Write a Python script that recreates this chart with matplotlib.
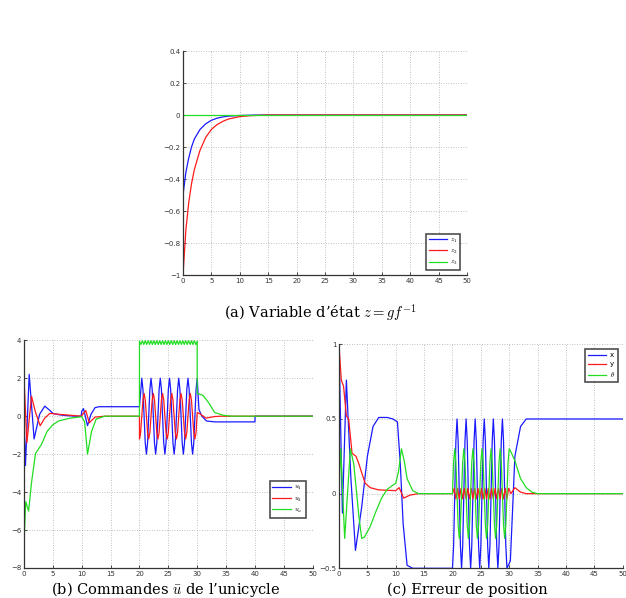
import matplotlib
matplotlib.use("Agg")
import matplotlib.pyplot as plt

W, H = 626, 598

# ---- (a) Variable d'etat z
ta = [0, 0.5, 1, 1.5, 2, 3, 4, 5, 6, 7, 8, 10, 12, 15, 50]
z1 = [-0.50, -0.36, -0.27, -0.20, -0.15, -0.09, -0.055, -0.033, -0.02, -0.012, -0.007, -0.003, -0.001, 0, 0]
z2 = [-1.0, -0.72, -0.55, -0.43, -0.34, -0.22, -0.14, -0.09, -0.06, -0.04, -0.025, -0.01, -0.004, 0, 0]
t_z3 = [0, 50]
z3 = [0, 0]

# ---- (b) Commandes
t_u1 = [0, 0.25, 0.9, 1.75, 2.7, 3.6, 4.5, 5, 6, 7, 8, 9, 9.9, 10.0, 10.3, 11.0, 11.6, 12.3, 13, 20.0,
        20.4, 20.6, 20.8, 21.0, 21.2, 21.4, 21.6, 21.8, 22.0, 22.2, 22.4, 22.6, 22.8, 23.0, 23.2, 23.4,
        23.6, 23.8, 24.0, 24.2, 24.4, 24.6, 24.8, 25.0, 25.2, 25.4, 25.6, 25.8, 26.0, 26.2, 26.4, 26.6,
        26.8, 27.0, 27.2, 27.4, 27.6, 27.8, 28.0, 28.2, 28.4, 28.6, 28.8, 29.0, 29.2, 29.4, 29.6, 29.8,
        30.0, 30.3, 30.8, 31.6, 33.0, 40.0, 40.01, 50]
u1 = [0, -2.6, 2.2, -1.2, 0.1, 0.53, 0.3, 0.15, 0.08, 0.04, 0.02, 0.0, 0.0, 0.25, 0.4, -0.5, 0.1, 0.45, 0.5, 0.5,
      2.0, 1.41, 0.0, -1.41, -2.0, -1.41, 0.0, 1.41, 2.0, 1.41, 0.0, -1.41, -2.0, -1.41, 0.0, 1.41,
      2.0, 1.41, 0.0, -1.41, -2.0, -1.41, 0.0, 1.41, 2.0, 1.41, 0.0, -1.41, -2.0, -1.41, 0.0, 1.41,
      2.0, 1.41, 0.0, -1.41, -2.0, -1.41, 0.0, 1.41, 2.0, 1.41, 0.0, -1.41, -2.0, -1.41, 0.0, 1.41,
      2.0, 0.35, 0.0, -0.25, -0.3, -0.3, 0.0, 0.0]

t_u2 = [0, 0.5, 1.3, 2.0, 2.8, 3.6, 4.5, 6, 8, 9.9, 10.7, 11.3, 12.3, 14, 19.99,
        20.0, 20.2, 20.4, 20.6, 20.8, 21.0, 21.2, 21.4, 21.6, 21.8, 22.0, 22.2, 22.4, 22.6, 22.8, 23.0,
        23.2, 23.4, 23.6, 23.8, 24.0, 24.2, 24.4, 24.6, 24.8, 25.0, 25.2, 25.4, 25.6, 25.8, 26.0, 26.2,
        26.4, 26.6, 26.8, 27.0, 27.2, 27.4, 27.6, 27.8, 28.0, 28.2, 28.4, 28.6, 28.8, 29.0, 29.2, 29.4,
        29.6, 29.8, 30.0, 30.6, 31.5, 33.0, 34.0, 50]
u2 = [2.0, -1.4, 1.05, 0.2, -0.5, -0.1, 0.15, 0.1, 0.05, 0.0, 0.3, -0.35, -0.05, 0.0, 0.0,
      -1.2, -0.85, 0.0, 0.85, 1.2, 0.85, 0.0, -0.85, -1.2, -0.85, 0.0, 0.85, 1.2, 0.85, 0.0, -0.85,
      -1.2, -0.85, 0.0, 0.85, 1.2, 0.85, 0.0, -0.85, -1.2, -0.85, 0.0, 0.85, 1.2, 0.85, 0.0, -0.85,
      -1.2, -0.85, 0.0, 0.85, 1.2, 0.85, 0.0, -0.85, -1.2, -0.85, 0.0, 0.85, 1.2, 0.85, 0.0, -0.85,
      -1.2, -0.85, 0.2, 0.1, -0.1, -0.02, 0.0, 0.0]

t_uw = [0, 0.3, 0.8, 1.3, 2.0, 3.0, 4.0, 5.0, 6.0, 8.0, 10.0, 10.5, 11.0, 11.7, 12.5, 14.0, 19.99,
        20.0, 20.25, 20.5, 20.75, 21.0, 21.25, 21.5, 21.75, 22.0, 22.25, 22.5, 22.75, 23.0, 23.25,
        23.5, 23.75, 24.0, 24.25, 24.5, 24.75, 25.0, 25.25, 25.5, 25.75, 26.0, 26.25, 26.5, 26.75,
        27.0, 27.25, 27.5, 27.75, 28.0, 28.25, 28.5, 28.75, 29.0, 29.25, 29.5, 29.75, 29.99,
        30.0, 31.0, 32.0, 33.0, 34.5, 36.0, 50]
uw = [-6.7, -4.5, -5.0, -3.5, -1.96, -1.5, -0.8, -0.45, -0.25, -0.1, -0.03, -0.3, -2.0, -0.8, -0.15, 0.0, 0.0,
      3.95, 3.78, 3.98, 3.78, 3.98, 3.78, 3.98, 3.78, 3.98, 3.78, 3.98, 3.78, 3.98, 3.78,
      3.98, 3.78, 3.98, 3.78, 3.98, 3.78, 3.98, 3.78, 3.98, 3.78, 3.98, 3.78, 3.98, 3.78,
      3.98, 3.78, 3.98, 3.78, 3.98, 3.78, 3.98, 3.78, 3.98, 3.78, 3.98, 3.78, 3.95,
      1.2, 1.1, 0.7, 0.2, 0.05, 0.0, 0.0]

# ---- (c) Erreur de position
t_x = [0, 0.6, 1.3, 2.1, 2.9, 4.0, 5.0, 6.0, 7.0, 8.5, 9.5, 10.3, 10.8, 11.3, 12.0, 13.0,
       20.0, 20.2, 20.4, 20.6, 20.8, 21.0, 21.2, 21.4, 21.6, 21.8, 22.0, 22.2, 22.4, 22.6, 22.8, 23.0,
       23.2, 23.4, 23.6, 23.8, 24.0, 24.2, 24.4, 24.6, 24.8, 25.0, 25.2, 25.4, 25.6, 25.8, 26.0, 26.2,
       26.4, 26.6, 26.8, 27.0, 27.2, 27.4, 27.6, 27.8, 28.0, 28.2, 28.4, 28.6, 28.8, 29.0, 29.2, 29.4,
       29.6, 30.2, 31.0, 32.0, 33.0, 50]
x_err = [1.0, -0.13, 0.76, 0.1, -0.38, -0.09, 0.25, 0.45, 0.51, 0.51, 0.5, 0.48, 0.2, -0.2, -0.48, -0.5,
         -0.5, -0.35, 0.0, 0.35, 0.5, 0.35, 0.0, -0.35, -0.5, -0.35, 0.0, 0.35, 0.5, 0.35, 0.0, -0.35,
         -0.5, -0.35, 0.0, 0.35, 0.5, 0.35, 0.0, -0.35, -0.5, -0.35, 0.0, 0.35, 0.5, 0.35, 0.0, -0.35,
         -0.5, -0.35, 0.0, 0.35, 0.5, 0.35, 0.0, -0.35, -0.5, -0.35, 0.0, 0.35, 0.5, 0.35, 0.0, -0.35,
         -0.5, -0.45, 0.25, 0.45, 0.5, 0.5]

t_y = [0, 0.4, 0.8, 1.3, 1.7, 2.3, 3.0, 3.5, 4.0, 4.6, 5.5, 7.0, 10.0, 10.6, 11.4, 12.5, 14.0, 20.0,
       20.3, 20.6, 20.9, 21.2, 21.5, 21.8, 22.1, 22.4, 22.7, 23.0, 23.3, 23.6, 23.9, 24.2, 24.5,
       24.8, 25.1, 25.4, 25.7, 26.0, 26.3, 26.6, 26.9, 27.2, 27.5, 27.8, 28.1, 28.4, 28.7, 29.0,
       29.3, 29.6, 29.9, 30.3, 31.0, 32.0, 33.0, 50]
y_err = [1.0, 0.76, 0.72, 0.52, 0.5, 0.27, 0.25, 0.2, 0.14, 0.07, 0.04, 0.025, 0.02, 0.04, -0.03, -0.01, 0.0, 0.0,
         0.035, -0.035, 0.035, -0.035, 0.035, -0.035, 0.035, -0.035, 0.035, -0.035, 0.035, -0.035, 0.035, -0.035, 0.035,
         -0.035, 0.035, -0.035, 0.035, -0.035, 0.035, -0.035, 0.035, -0.035, 0.035, -0.035, 0.035, -0.035, 0.035, -0.035,
         0.035, -0.035, 0.035, 0.0, 0.04, 0.01, 0.0, 0.0]

t_th = [0, 0.3, 1.0, 2.0, 2.6, 3.5, 4.0, 4.5, 5.5, 6.5, 7.5, 8.5, 10.0, 10.5, 11.0, 11.5, 12.0, 13.0, 14.0,
        20.0, 20.2, 20.4, 20.6, 20.8, 21.0, 21.2, 21.4, 21.6, 21.8, 22.0, 22.2, 22.4, 22.6, 22.8, 23.0,
        23.2, 23.4, 23.6, 23.8, 24.0, 24.2, 24.4, 24.6, 24.8, 25.0, 25.2, 25.4, 25.6, 25.8, 26.0, 26.2,
        26.4, 26.6, 26.8, 27.0, 27.2, 27.4, 27.6, 27.8, 28.0, 28.2, 28.4, 28.6, 28.8, 29.0, 29.2, 29.4,
        29.6, 29.8, 30.0, 30.3, 31.0, 32.0, 33.0, 34.0, 35.0, 50]
theta = [0, 0.3, -0.3, 0.3, 0.2, -0.15, -0.3, -0.29, -0.22, -0.12, -0.03, 0.03, 0.07, 0.15, 0.3, 0.22, 0.1, 0.02, 0.0,
         0.0, 0.21, 0.3, 0.21, 0.0, -0.21, -0.3, -0.21, 0.0, 0.21, 0.3, 0.21, 0.0, -0.21, -0.3, -0.21,
         0.0, 0.21, 0.3, 0.21, 0.0, -0.21, -0.3, -0.21, 0.0, 0.21, 0.3, 0.21, 0.0, -0.21, -0.3, -0.21,
         0.0, 0.21, 0.3, 0.21, 0.0, -0.21, -0.3, -0.21, 0.0, 0.21, 0.3, 0.21, 0.0, -0.21, -0.3, -0.21,
         0.0, 0.21, 0.3, 0.28, 0.22, 0.1, 0.04, 0.01, 0.0, 0.0]

xticks = [0, 5, 10, 15, 20, 25, 30, 35, 40, 45, 50]

BLUE, RED, GREEN = "#1a1aff", "#ff1a1a", "#22dd22"


def make_axes(l, r, t, b):
    ax = fig.add_axes([l / W, 1 - b / H, (r - l) / W, (b - t) / H])
    for s in ("top", "right"):
        ax.spines[s].set_visible(False)
    for s in ("left", "bottom"):
        ax.spines[s].set_linewidth(0.9)
        ax.spines[s].set_color("#333333")
    ax.tick_params(direction="in", length=2.5, width=0.6, labelsize=5, pad=2, colors="#333333")
    ax.grid(True, linestyle=(0, (1, 2)), color="#aaaaaa", linewidth=0.6)
    ax.set_xlim(0, 50)
    ax.set_xticks(xticks)
    return ax


def legend(ax, loc, anchor):
    lg = ax.legend(loc=loc, bbox_to_anchor=anchor, fontsize=5, frameon=True, fancybox=False,
                   handlelength=2.6, handletextpad=0.5, borderpad=0.4, labelspacing=0.45,
                   borderaxespad=0)
    fr = lg.get_frame()
    fr.set_edgecolor("#222222")
    fr.set_linewidth(1.2)
    return lg


fig = plt.figure(figsize=(W / 100, H / 100), dpi=100)
plt.rcParams["mathtext.fontset"] = "cm"

# (a)
ax = make_axes(183, 467, 51, 275)
ax.plot(ta, z1, color=BLUE, lw=0.9, label=r"$z_1$")
ax.plot(ta, z2, color=RED, lw=0.9, label=r"$z_2$")
ax.plot(t_z3, z3, color=GREEN, lw=0.9, label=r"$z_3$")
ax.set_ylim(-1, 0.4)
ax.set_yticks([-1, -0.8, -0.6, -0.4, -0.2, 0, 0.2, 0.4])
ax.set_yticklabels(["\u22121", "\u22120.8", "\u22120.6", "\u22120.4", "\u22120.2", "0", "0.2", "0.4"])
legend(ax, "lower right", (1 - 6.6 / 284, 5 / 224))

# (b)
ax = make_axes(24, 312.7, 340.3, 568)
ax.plot(t_u1, u1, color=BLUE, lw=0.9, label=r"$u_1$")
ax.plot(t_u2, u2, color=RED, lw=0.9, label=r"$u_2$")
ax.plot(t_uw, uw, color=GREEN, lw=0.9, label=r"$u_\omega$")
ax.set_ylim(-8, 4)
ax.set_yticks([-8, -6, -4, -2, 0, 2, 4])
ax.set_yticklabels(["\u22128", "\u22126", "\u22124", "\u22122", "0", "2", "4"])
legend(ax, "lower right", (1 - 7 / 288.7, 0.221))

# (c)
ax = make_axes(339, 622.7, 344.3, 568.3)
ax.plot(t_x, x_err, color=BLUE, lw=0.9, label="x")
ax.plot(t_y, y_err, color=RED, lw=0.9, label="y")
ax.plot(t_th, theta, color=GREEN, lw=0.9, label=r"$\theta$")
ax.set_ylim(-0.5, 1)
ax.set_yticks([-0.5, 0, 0.5, 1])
ax.set_yticklabels(["\u22120.5", "0", "0.5", "1"])
legend(ax, "upper right", (1 - 5 / 283.7, 1 - 5 / 224))

# captions
cap = dict(ha="center", fontsize=10.5, family="DejaVu Serif")
fig.text(320.5 / W, 1 - 302 / H, r"(a) Variable d’état $z = gf^{-1}$", va="top", **cap)
fig.text(166 / W, 1 - 594 / H, r"(b) Commandes $\bar{u}$ de l’unicycle", va="baseline", **cap)
fig.text(467 / W, 1 - 594 / H, "(c) Erreur de position", va="baseline", **cap)

fig.savefig("out.png", dpi=100)
